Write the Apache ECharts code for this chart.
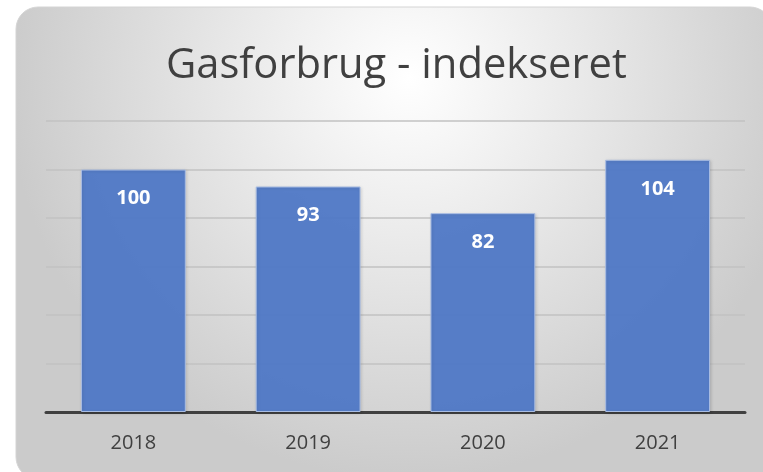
<!DOCTYPE html>
<html><head><meta charset="utf-8">
<script src="https://cdn.jsdelivr.net/npm/echarts@6/dist/echarts.min.js"></script>
<style>html,body{margin:0;padding:0;background:#fff}#c{width:763px;height:472px}</style>
</head><body><div id="c"></div>
<script>
const titleText = 'Gasforbrug - indekseret';
const categories = ['2018', '2019', '2020', '2021'];
const values = [100, 93, 82, 104];
const yMin = 0, yMax = 120, yStep = 20;

const chart = echarts.init(document.getElementById('c'), null, {renderer: 'canvas'});
chart.setOption({
  animation: false,
  graphic: [{
    type: 'rect', z: -10, silent: true,
    shape: {x: 16, y: 7, width: 756, height: 472, r: 22},
    style: {
      fill: new echarts.graphic.RadialGradient(0.52, 0.15, 0.85, [
        {offset: 0, color: '#ffffff'},
        {offset: 0.45, color: '#e8e8e8'},
        {offset: 1, color: '#cbcbcb'}
      ]),
      stroke: '#d4d4d4', lineWidth: 1
    }
  }],
  title: {
    text: titleText, left: 161, top: 40,
    textStyle: {fontFamily: 'Open Sans', fontWeight: 'normal', fontSize: 41.7, color: '#404040'}
  },
  grid: {left: 46, right: 18, top: 121, bottom: 60},
  xAxis: {
    type: 'category', data: categories,
    axisLine: {lineStyle: {color: '#404040', width: 3}},
    axisTick: {show: false},
    axisLabel: {fontFamily: 'Open Sans', fontSize: 20, color: '#404040', margin: 21}
  },
  yAxis: {
    type: 'value', min: yMin, max: yMax, interval: yStep,
    axisLabel: {show: false}, axisLine: {show: false}, axisTick: {show: false},
    splitLine: {lineStyle: {color: '#c2c2c2', width: 1.5}}
  },
  series: [{
    type: 'bar', data: values, barWidth: '60%',
    itemStyle: {color: 'rgba(80,121,199,0.95)', borderColor: '#a9bde3', borderWidth: 1,
      shadowColor: 'rgba(0,0,0,0.15)', shadowBlur: 3, shadowOffsetX: 1, shadowOffsetY: 1},
    label: {show: true, position: 'insideTop', distance: 19, color: '#ffffff',
      fontFamily: 'Open Sans', fontWeight: 'bold', fontSize: 20}
  }]
});
</script></body></html>
